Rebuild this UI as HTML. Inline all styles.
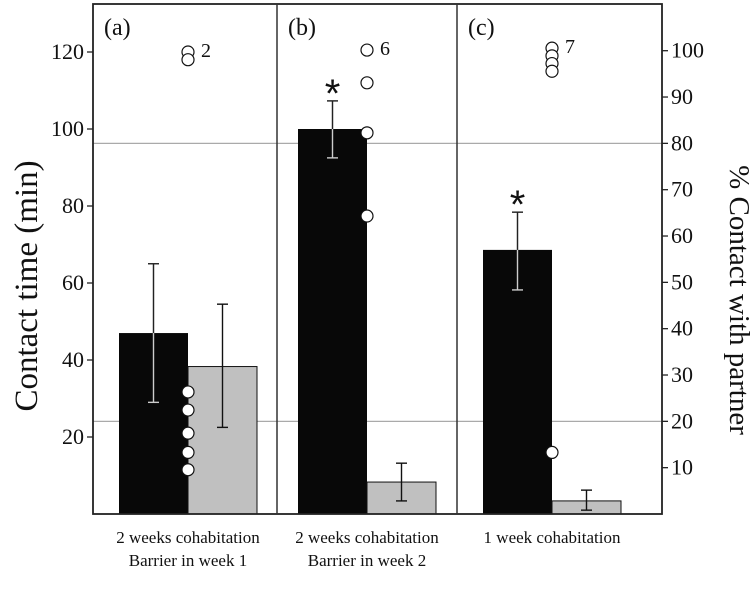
<!DOCTYPE html>
<html><head><meta charset="utf-8"><style>
html,body{margin:0;padding:0;background:#fff;}
svg{display:block;font-family:"Liberation Serif",serif;}
</style></head><body>
<svg id="chart" width="754" height="598" viewBox="0 0 754 598"></svg>
<script>
const panelLabels = ["(a)","(b)","(c)"];
const categoryLine1 = ["2 weeks cohabitation","2 weeks cohabitation","1 week cohabitation"];
const categoryLine2 = ["Barrier in week 1","Barrier in week 2",""];
const blackValues = [47, 100, 68.6];
const blackErrLow = [29, 92.5, 58.2];
const blackErrHigh = [65, 107.3, 78.4];
const grayValues = [38.3, 8.3, 3.4];
const grayErrLow = [22.5, 3.4, 1];
const grayErrHigh = [54.5, 13.2, 6.2];
const outlierTop = [[120, 118], [120.5, 112, 99, 77.4], [121, 119, 117, 115]];
const outlierCounts = ["2","6","7"];
const outlierFilled = [[31.7, 27, 21, 16, 11.5], [], [16]];
const significant = [false, true, true];
const leftTicks = [20, 40, 60, 80, 100, 120];
const rightTicks = [10, 20, 30, 40, 50, 60, 70, 80, 90, 100];
const refLinesPct = [20, 80];

const svg = document.getElementById('chart');
const NS = 'http://www.w3.org/2000/svg';
const L = 93, R = 662, T = 4, B = 514;
const yL = v => B - 3.85 * v;
const yR = p => B - 4.633 * p;
const panelX = [93, 277, 457, 662];
const blackStart = [119, 298, 483];
const BW = 69;
function mk(tag, attrs, parent) {
  const e = document.createElementNS(NS, tag);
  for (const k in attrs) e.setAttribute(k, attrs[k]);
  (parent || svg).appendChild(e);
  return e;
}
refLinesPct.forEach((p, i) => {
  const l = mk('line', {x1: L, x2: R, y1: yR(p), y2: yR(p), stroke: '#aaa', 'stroke-width': 1.2});
  
  
});
for (let i = 0; i < 3; i++) {
  const x0 = blackStart[i];
  const b = mk('rect', {x: x0, y: yL(blackValues[i]), width: BW, height: B - yL(blackValues[i]), fill: '#080808'});
  
  
  const g = mk('rect', {x: x0 + BW, y: yL(grayValues[i]), width: BW, height: B - yL(grayValues[i]), fill: '#c0c0c0', stroke: '#111', 'stroke-width': 1});
  
  
  [[x0 + BW / 2, blackErrLow[i], blackErrHigh[i]], [x0 + BW * 1.5, grayErrLow[i], grayErrHigh[i]]].forEach((e, j) => {
    const grp = mk('g', {stroke: j === 0 ? '#ccc' : '#111', 'stroke-width': 1.4});
    
    
    mk('line', {x1: e[0], x2: e[0], y1: yL(e[1]), y2: yL(e[2])}, grp);
    mk('line', {x1: e[0] - 5.5, x2: e[0] + 5.5, y1: yL(e[1]), y2: yL(e[1])}, grp);
    mk('line', {x1: e[0] - 5.5, x2: e[0] + 5.5, y1: yL(e[2]), y2: yL(e[2])}, grp);
    if (j === 0) {
      const grp2 = mk('g', {stroke: '#222', 'stroke-width': 1.4});
      mk('line', {x1: e[0], x2: e[0], y1: yL(e[2]), y2: Math.max(yL(e[2]), Math.min(yL(blackValues[i]), yL(e[1])))}, grp2);
      if (yL(e[2]) < yL(blackValues[i])) mk('line', {x1: e[0] - 5.5, x2: e[0] + 5.5, y1: yL(e[2]), y2: yL(e[2])}, grp2);
      if (yL(e[1]) < yL(blackValues[i])) mk('line', {x1: e[0] - 5.5, x2: e[0] + 5.5, y1: yL(e[1]), y2: yL(e[1])}, grp2);
    }
  });
  const cx = x0 + BW;
  outlierTop[i].forEach((v, k) => {
    const c = mk('circle', {cx: cx, cy: yL(v), r: 6, fill: '#fff', stroke: '#111', 'stroke-width': 1.2});
    
    
  });
  const cnt = mk('text', {x: cx + 13, y: yL(Math.max(...outlierTop[i])) + 5, 'font-size': 20, fill: '#111'});
  cnt.textContent = outlierCounts[i];
  
  
  outlierFilled[i].forEach(v => {
    const c = mk('circle', {cx: cx, cy: yL(v), r: 6, fill: '#fff', stroke: '#111', 'stroke-width': 1.2});
    
    
  });
  if (significant[i]) {
    const s = mk('text', {x: x0 + BW / 2, y: yL(blackErrHigh[i]) + 6, 'font-size': 40, 'text-anchor': 'middle', fill: '#111', 'font-family': 'Liberation Sans, sans-serif'});
    s.textContent = '*';
    
    
  }
  const pl = mk('text', {x: panelX[i] + 11, y: 35, 'font-size': 24, fill: '#111'});
  pl.textContent = panelLabels[i];
  
  
  const cxm = x0 + BW;
  const t1 = mk('text', {x: cxm, y: 543, 'font-size': 17, 'text-anchor': 'middle', fill: '#111'});
  t1.textContent = categoryLine1[i];
  
  
  if (categoryLine2[i]) {
    const t2 = mk('text', {x: cxm, y: 566, 'font-size': 17, 'text-anchor': 'middle', fill: '#111'});
    t2.textContent = categoryLine2[i];
    
    
  }
}
const frame = mk('rect', {x: L, y: T, width: R - L, height: B - T, fill: 'none', stroke: '#222', 'stroke-width': 1.8});


[277, 457].forEach(x => {
  const d = mk('line', {x1: x, x2: x, y1: T, y2: B, stroke: '#333', 'stroke-width': 1.5});
  
  
});
leftTicks.forEach(v => {
  mk('line', {x1: L - 6, x2: L, y1: yL(v), y2: yL(v), stroke: '#222', 'stroke-width': 1.3});
  const t = mk('text', {x: L - 9, y: yL(v) + 7, 'font-size': 22, 'text-anchor': 'end', fill: '#111'});
  t.textContent = v;
  
  
});
rightTicks.forEach(v => {
  mk('line', {x1: R, x2: R + 6, y1: yR(v), y2: yR(v), stroke: '#222', 'stroke-width': 1.3});
  const t = mk('text', {x: R + 9, y: yR(v) + 7, 'font-size': 22, fill: '#111'});
  t.textContent = v;
  
  
});
const yt = mk('text', {x: 0, y: 0, 'font-size': 33, 'text-anchor': 'middle', fill: '#111', transform: 'translate(37,286) rotate(-90)'});
yt.textContent = 'Contact time (min)';


const yt2 = mk('text', {x: 0, y: 0, 'font-size': 29, 'text-anchor': 'middle', fill: '#111', transform: 'translate(730,300) rotate(90)'});
yt2.textContent = '% Contact with partner';


</script>
</body></html>
